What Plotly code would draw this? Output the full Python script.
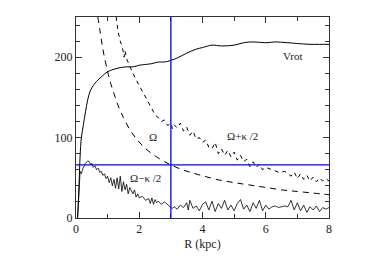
import plotly.graph_objects as go

# ---- data ----
r_vrot = [0.05, 0.08, 0.1, 0.13, 0.17, 0.23, 0.3, 0.37, 0.45, 0.55, 0.65, 0.76, 0.9, 1.0, 1.2, 1.4,
          1.6, 1.8, 2.0, 2.2, 2.4, 2.6, 2.8, 3.0, 3.2, 3.5, 3.8, 4.0, 4.3, 4.6, 5.0, 5.3, 5.6, 6.0,
          6.3, 6.7, 7.0, 7.4, 7.7, 8.0]
vrot = [0, 25, 45, 77, 100, 115, 132, 147, 158, 165, 170, 174, 179, 182, 185, 187,
        188, 188, 190, 191, 192, 194, 194, 196, 199, 205, 210, 212, 215, 214, 215, 218, 219, 218,
        219, 218, 217, 216, 216, 216]

r_omega = [0.69, 0.75, 0.85, 1.0, 1.1, 1.2, 1.35, 1.5, 1.7, 1.9, 2.1, 2.3, 2.55, 2.8, 3.0, 3.3,
           3.6, 4.0, 4.5, 5.0, 5.5, 6.0, 6.5, 7.0, 7.5, 8.0]
omega = [250, 235, 210, 182, 167, 155, 138, 125, 110, 99, 90, 83, 76, 70, 66, 61,
         57, 52.5, 47.5, 44, 41, 38, 35, 33, 31, 29]

r_plus = [1.27, 1.33, 1.4, 1.47, 1.52, 1.55, 1.6, 1.7, 1.8, 1.9, 2.0, 2.1, 2.2, 2.3, 2.4, 2.5,
          2.6, 2.7, 2.8, 2.9, 3.0, 3.05, 3.1, 3.2, 3.3, 3.4, 3.5, 3.6, 3.7, 3.8, 3.9, 4.0, 4.1,
          4.2, 4.3, 4.4, 4.5, 4.6, 4.7, 4.8, 4.9, 5.0, 5.1, 5.2, 5.3, 5.4, 5.5, 5.6, 5.7, 5.8,
          5.9, 6.0, 6.2, 6.4, 6.6, 6.8, 6.9, 7.0, 7.1, 7.2, 7.3, 7.4, 7.5, 7.6, 7.7, 7.8, 7.9, 8.0]
omega_plus = [250, 232, 220, 212, 200, 208, 198, 188, 180, 172, 165, 158, 150, 143, 136, 128,
              125, 120, 122, 115, 118, 111, 116, 112, 118, 108, 113, 103, 108, 98, 100, 94, 97,
              88, 86, 94, 80, 86, 78, 84, 76, 82, 72, 78, 70, 73, 64, 70, 63, 67,
              60, 63, 60, 57, 58, 52, 57, 49, 55, 48, 53, 46, 51, 45, 50, 46, 49, 46]

r_minus = [0.05, 0.08, 0.1, 0.13, 0.17, 0.22, 0.3, 0.37, 0.42, 0.47, 0.5, 0.55, 0.6, 0.65, 0.7,
           0.75, 0.8, 0.85, 0.9, 0.95, 1.0, 1.05, 1.1, 1.15, 1.2, 1.25, 1.3, 1.35, 1.4, 1.45,
           1.5, 1.55, 1.6, 1.65, 1.7, 1.75, 1.8, 1.85, 1.9, 1.95, 2.0, 2.1, 2.2, 2.3, 2.35, 2.4,
           2.45, 2.5, 2.55, 2.6, 2.7, 2.8, 2.9, 2.95, 3.0, 3.05, 3.1, 3.2, 3.3, 3.4, 3.5, 3.55,
           3.6, 3.7, 3.8, 3.9, 4.0, 4.1, 4.2, 4.3, 4.4, 4.5, 4.6, 4.7, 4.8, 4.9, 5.0, 5.1, 5.2,
           5.3, 5.4, 5.5, 5.6, 5.7, 5.8, 5.9, 6.0, 6.1, 6.2, 6.3, 6.4, 6.5, 6.6, 6.7, 6.8, 6.9,
           7.0, 7.1, 7.2, 7.3, 7.4, 7.5, 7.6, 7.7, 7.8, 7.9, 8.0]
omega_minus = [0, 30, 50, 58, 55, 62, 68, 71, 70, 66, 68, 63, 65, 60, 62,
               57, 58, 53, 55, 49, 52, 44, 50, 40, 48, 37, 50, 36, 52, 33,
               45, 35, 42, 30, 38, 33, 30, 35, 26, 30, 25, 27, 22, 24, 18, 25,
               17, 23, 19, 21, 17, 20, 16, 14, 13, 12, 14, 11, 16, 13, 19, 10,
               22, 12, 15, 9, 17, 20, 10, 21, 8, 18, 12, 22, 10, 16, 9, 18, 23,
               11, 16, 8, 19, 12, 22, 9, 16, 11, 14, 15, 13, 14, 15, 14, 22, 10,
               19, 9, 16, 7, 14, 10, 15, 8, 13, 11, 13]

R_CR = 3.0       # corotation radius (kpc)
OMEGA_P = 66     # pattern speed

labels = ["Vrot", "Ω", "Ω+κ /2", "Ω−κ /2"]
label_r = [6.85, 2.42, 5.25, 2.2]
label_v = [202, 101, 102, 50]

SERIF = "Liberation Serif"

fig = go.Figure()
fig.add_trace(go.Scatter(x=r_vrot, y=vrot, mode="lines", line=dict(color="black", width=1),
                         line_shape="spline"))
fig.add_trace(go.Scatter(x=r_omega, y=omega, mode="lines",
                         line=dict(color="black", width=1, dash="6px,5px"), line_shape="spline"))
fig.add_trace(go.Scatter(x=r_plus, y=omega_plus, mode="lines",
                         line=dict(color="black", width=1, dash="4px,4px")))
fig.add_trace(go.Scatter(x=r_minus, y=omega_minus, mode="lines",
                         line=dict(color="black", width=0.8)))

fig.add_vline(x=R_CR, line=dict(color="#0000ff", width=1.3))
fig.add_hline(y=OMEGA_P, line=dict(color="#0000ff", width=1.3))

for t, xr, yv in zip(labels, label_r, label_v):
    fig.add_annotation(x=xr, y=yv, text=t, showarrow=False,
                       font=dict(family=SERIF, size=11, color="#222"))

axis_common = dict(showgrid=False, zeroline=False, showline=True, linecolor="#333", linewidth=1,
                   mirror="allticks", ticks="inside", tickcolor="#333", tickwidth=1,
                   tickfont=dict(family=SERIF, size=12, color="#222"))
fig.update_xaxes(range=[0, 8], dtick=2, tick0=0, ticklen=6,
                 minor=dict(dtick=1, ticks="inside", ticklen=4, tickcolor="#333"),
                 title=dict(text="R (kpc)", font=dict(family=SERIF, size=12, color="#222"), standoff=4),
                 **axis_common)
fig.update_yaxes(range=[0, 250], dtick=100, tick0=0, ticklen=6,
                 minor=dict(dtick=20, ticks="inside", ticklen=4, tickcolor="#333"),
                 **axis_common)

fig.update_layout(width=374, height=272, margin=dict(l=76, r=45, t=17, b=54),
                  paper_bgcolor="white", plot_bgcolor="white", showlegend=False)

fig.write_html("out.html", config={"displayModeBar": False},
               post_script="document.body.style.margin='0px';")
